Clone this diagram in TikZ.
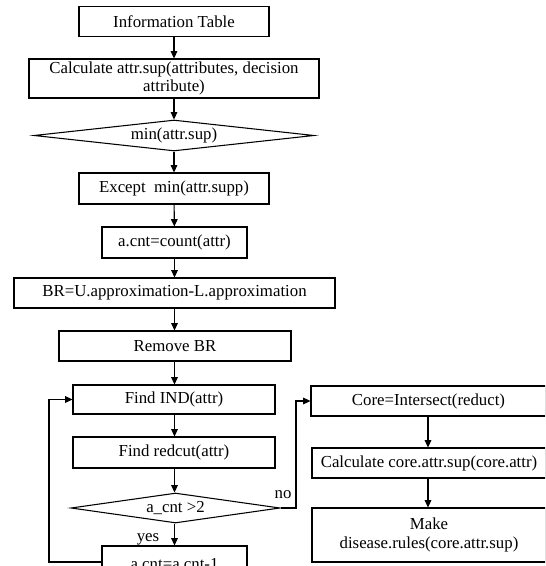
\documentclass[tikz,border=0pt]{standalone}
\usepackage{fontspec}
\setmainfont{Liberation Serif}
\usetikzlibrary{shapes.geometric,arrows.meta}
\begin{document}
\begin{tikzpicture}[x=0.75pt,y=-0.75pt,
  font=\fontsize{12.6}{14}\selectfont,
  every node/.style={inner sep=0pt},
  box/.style={draw,line width=0.8pt,align=center},
  dia/.style={draw,line width=0.8pt,shape=diamond},
  arr/.style={line width=0.8pt,-{Triangle[length=5.5pt,width=5pt]}},
  lbl/.style={}]
\useasboundingbox (0,0) rectangle (545,566);
\clip (0,0) rectangle (545,566);
\fill[white] (0,0) rectangle (545,566);
% left column
\node[box,minimum width=142.5pt,minimum height=22.5pt] (info) at (174,21.5) {Information Table};
\node[box,minimum width=217.5pt,minimum height=29.25pt] (calc) at (174,78.5) {Calculate attr.sup(attributes, decision\\attribute)};
\node[dia,aspect=9,minimum width=210pt,minimum height=23.25pt] (min) at (174,135.5) {min(attr.sup)};
\node[box,minimum width=142.5pt,minimum height=23.25pt] (exc) at (174,188.5) {Except\ \ min(attr.supp)};
\node[box,minimum width=108.75pt,minimum height=23.25pt] (acnt) at (174.5,242.5) {a.cnt=count(attr)};
\node[box,minimum width=240.75pt,minimum height=22.5pt] (br) at (174.5,293) {BR=U.approximation-L.approximation};
\node[box,minimum width=174pt,minimum height=22.5pt] (rem) at (175,346) {Remove BR};
\node[box,minimum width=151.5pt,minimum height=21.75pt] (ind) at (174,399.5) {Find IND(attr)};
\node[box,minimum width=151.5pt,minimum height=23.25pt] (red) at (174,452.5) {Find redcut(attr)};
\node[dia,aspect=7,minimum width=156.75pt,minimum height=22.5pt] (cnt) at (175.5,508) {a\_cnt >2};
\node[box,minimum width=108.75pt,minimum height=27pt] (dec) at (174.5,564) {a.cnt=a.cnt-1};
% right column
\node[box,minimum width=176.25pt,minimum height=22.5pt] (core) at (428.5,401) {Core=Intersect(reduct)};
\node[box,minimum width=175.5pt,minimum height=22.5pt] (ccore) at (429,463) {Calculate core.attr.sup(core.attr)};
\node[box,minimum width=175.5pt,minimum height=40.5pt] (make) at (429,535) {Make\\disease.rules(core.attr.sup)};
% helper coordinates
\coordinate (L) at (49,0);
\coordinate (R) at (296,0);
% arrows
\draw[arr] (info) -- (calc);
\draw[arr] (calc) -- (min);
\draw[arr] (min) -- (exc);
\draw[arr] (exc) -- (acnt);
\draw[arr] (acnt) -- (br.north -| acnt);
\draw[arr] (br.south -| acnt) -- (rem.north -| acnt);
\draw[arr] (rem.south -| acnt) -- (ind.north -| acnt);
\draw[arr] (ind.south -| acnt) -- (red.north -| acnt);
\draw[arr] (red.south -| acnt) -- (cnt.north -| acnt);
\draw[arr] (cnt.south -| acnt) -- (dec.north -| acnt);
\draw[arr] ([yshift=1.5pt]dec.west) -- ([yshift=1.5pt]dec.west -| L) |- (ind.west);
\draw[arr] (cnt.east) -- (cnt.east -| R) |- (core.west);
\draw[arr] (core.south -| 428,0) -- (ccore.north -| 428,0);
\draw[arr] (ccore.south -| 428,0) -- (make.north -| 428,0);
% labels
\node[lbl] (no) at (283,495) {no};
\node[lbl] (yes) at (148,539) {yes};
\end{tikzpicture}
\end{document}
